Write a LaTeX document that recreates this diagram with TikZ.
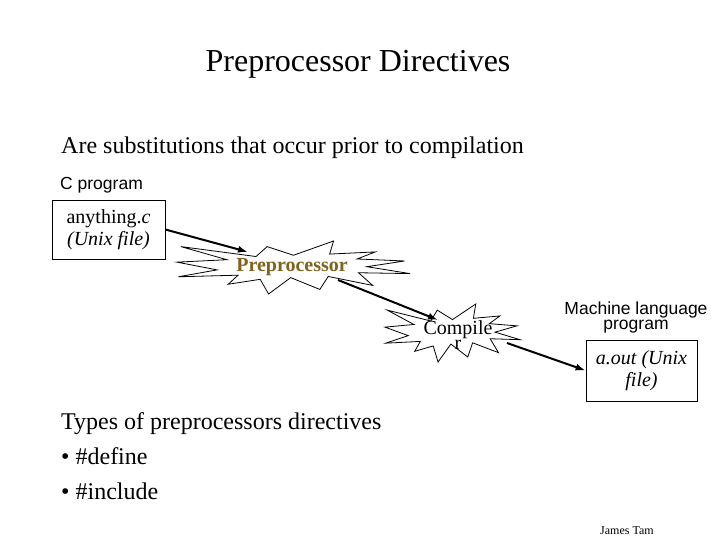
\documentclass[tikz,border=0pt]{standalone}
\usepackage{fontspec}
\setmainfont{Liberation Serif}
\setsansfont{Liberation Sans}
\usepackage{xcolor}
\usetikzlibrary{positioning, arrows.meta, calc}
\definecolor{prepgold}{RGB}{128,100,30}

% explosion outline round a centre: #1 centre, #2 width, #3 height
\newcommand{\blast}[3]{%
  \begin{scope}[shift={(#1)}, xscale=#2, yscale=#3]
    \draw[blastline] (0,-0.231) -- (0.172,-0.5) -- (0.155,-0.253) -- (0.351,-0.294)
      -- (0.273,-0.161) -- (0.477,-0.123) -- (0.315,-0.015) -- (0.5,0.115)
      -- (0.279,0.099) -- (0.340,0.338) -- (0.149,0.169) -- (0.113,0.414)
      -- (-0.012,0.191) -- (-0.107,0.5) -- (-0.143,0.223) -- (-0.280,0.316)
      -- (-0.238,0.145) -- (-0.494,0.175) -- (-0.328,0.045) -- (-0.5,-0.101)
      -- (-0.286,-0.147) -- (-0.483,-0.394) -- (-0.161,-0.207) -- (-0.113,-0.394)
      -- cycle;
  \end{scope}}

\begin{document}
\begin{tikzpicture}[
    x=1pt, y=-1pt,
    heading/.style ={inner sep=0pt, font=\fontsize{32}{38}\selectfont},
    bodytext/.style={inner sep=0pt, font=\fontsize{24}{35}\selectfont},
    caption/.style ={inner sep=0pt, align=center, font=\sffamily\fontsize{17.5}{15}\selectfont},
    filebox/.style ={
        rectangle,
        draw,
        line width=0.8pt,
        align=center,
        font=\fontsize{20}{22}\selectfont
    },
    preptext/.style={inner sep=0pt, text=prepgold, font=\bfseries\fontsize{20}{22}\selectfont},
    comptext/.style={inner sep=0pt, align=center, font=\fontsize{20}{15}\selectfont},
    blastline/.style={line width=0.8pt, line join=miter},
    arr/.style={-{Latex[length=10pt, width=7pt]}, line width=2pt}
]
\fill[white] (0,0) rectangle (720,540);
\useasboundingbox (0,0) rectangle (720,540);

\node[heading, anchor=base] (title) at (358,72) {Preprocessor Directives};
\node[bodytext, anchor=base west] (intro) at (61,154)
    {Are substitutions that occur prior to compilation};

\node[filebox, minimum width=113pt, minimum height=59pt] (anything) at (108.5,229.5)
    {anything.\textit{c}\\ \textit{(Unix file)}};
\node[caption, anchor=base west] (cprog) at (60,190) {C program};

\coordinate (prepc) at (293.5,267.5);
\blast{prepc}{233}{53}
\node[preptext, anchor=base] (prep) at (292,271) {Preprocessor};

\coordinate (compc) at (452.5,333);
\blast{compc}{135}{58}
\node[comptext] (comp) at (458,335) {Compile\\r};

\node[caption] (mlang) at (636,317) {Machine language\\program};
\node[filebox, minimum width=111pt, minimum height=61pt] (aout) at (641.5,370.5)
    {\textit{a.out (Unix}\\ \textit{file)}};

% arrow ends inside the explosions
\coordinate (prepin)  at (248,252);
\coordinate (prepout) at (338,280);
\coordinate (compin)  at (438,320);
\coordinate (compout) at (507,343);

\draw[arr] (anything.east) -- (prepin);
\draw[arr] (prepout) -- (compin);
\draw[arr] (compout) -- (aout.west);

\node[bodytext, anchor=base west] (types) at (61,429) {Types of preprocessors directives};
\node[bodytext, anchor=base west] (define) at (61,464) {• \#define};
\node[bodytext, anchor=base west] (include) at (61,499) {• \#include};

\node[inner sep=0pt, anchor=base west, font=\fontsize{12}{14}\selectfont] (author) at (600,534) {James Tam};
\end{tikzpicture}
\end{document}
